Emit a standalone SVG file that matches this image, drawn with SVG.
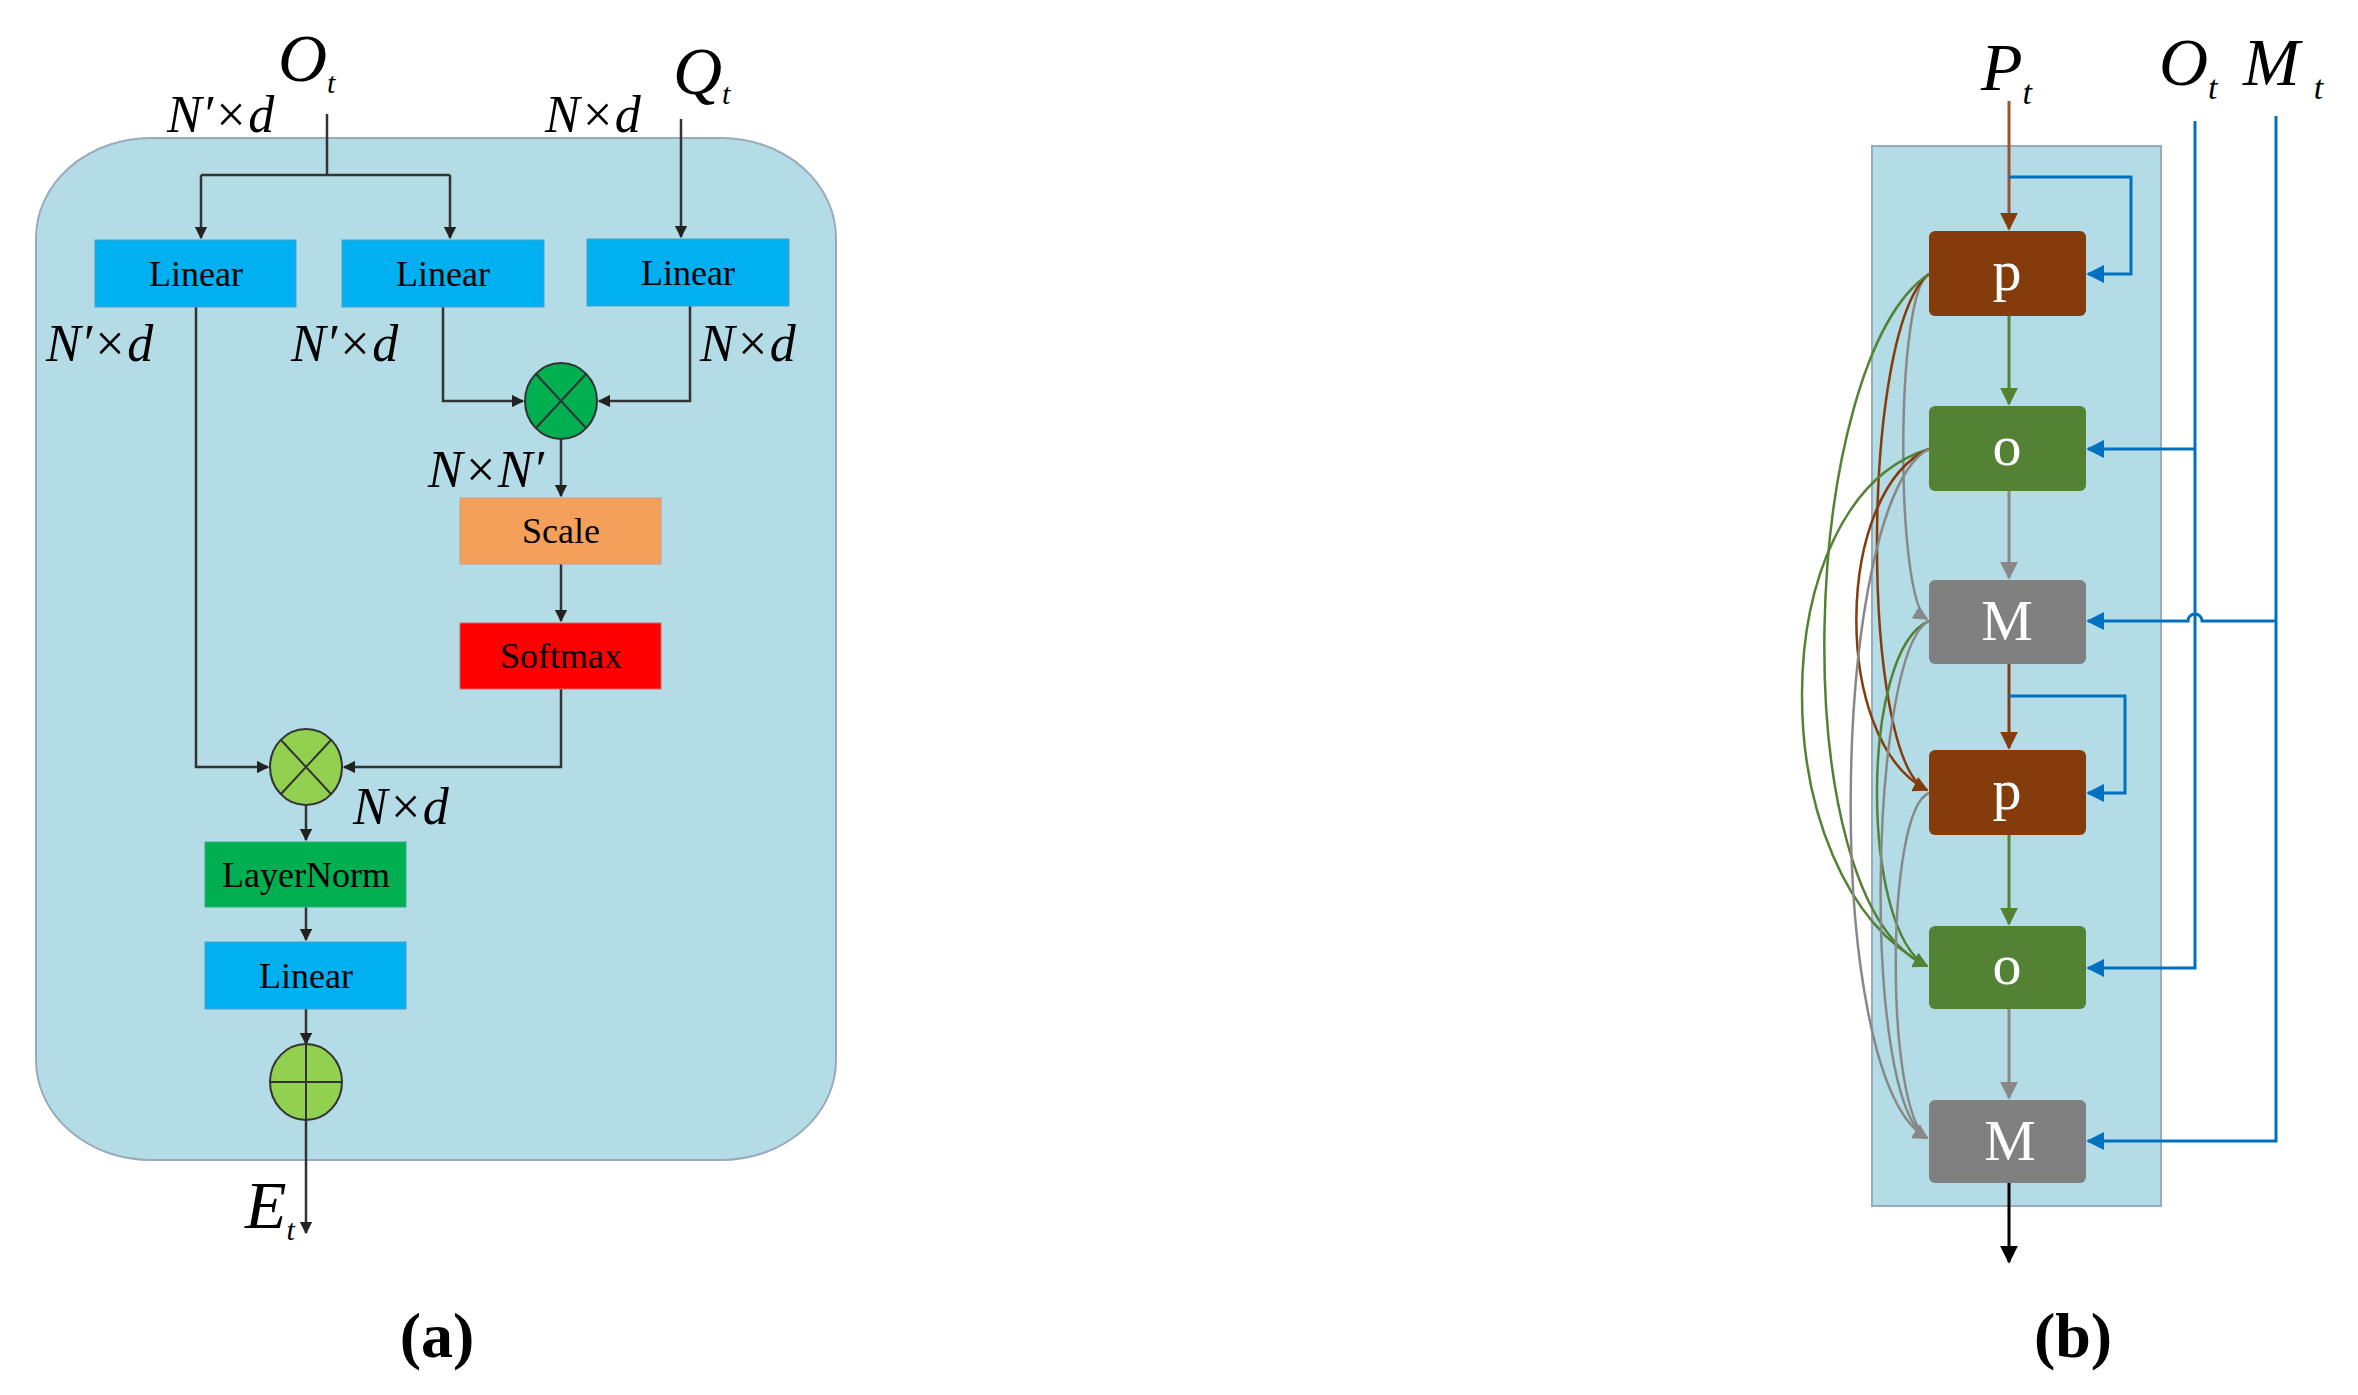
<svg xmlns="http://www.w3.org/2000/svg" width="2358" height="1395" viewBox="0 0 2358 1395">
<style>
.lbl{font-family:"Liberation Serif",serif;font-size:36px;fill:#000}
.wl{font-family:"Liberation Serif",serif;font-size:58px;fill:#fff}
.m{font-family:"Liberation Serif",serif;font-style:italic;font-size:52px;fill:#000}
.big{font-family:"Liberation Serif",serif;font-style:italic;font-size:68px;fill:#000}
.cap{font-family:"Liberation Serif",serif;font-weight:bold;font-size:64px;fill:#000}
.k{stroke:#333;stroke-width:2.5;fill:none}
</style>
<defs>
<marker id="ak" viewBox="0 0 10 10" refX="9" refY="5" markerWidth="5" markerHeight="5" orient="auto"><path d="M0 0L10 5L0 10z" fill="#222"/></marker>
<marker id="ab" viewBox="0 0 10 10" refX="9" refY="5" markerWidth="6" markerHeight="6" orient="auto"><path d="M0 0L10 5L0 10z" fill="#0070C0"/></marker>
<marker id="ar" viewBox="0 0 10 10" refX="9" refY="5" markerWidth="6" markerHeight="6" orient="auto"><path d="M0 0L10 5L0 10z" fill="#843C0C"/></marker>
<marker id="ag" viewBox="0 0 10 10" refX="9" refY="5" markerWidth="6" markerHeight="6" orient="auto"><path d="M0 0L10 5L0 10z" fill="#548235"/></marker>
<marker id="ay" viewBox="0 0 10 10" refX="9" refY="5" markerWidth="6" markerHeight="6" orient="auto"><path d="M0 0L10 5L0 10z" fill="#888"/></marker>
<marker id="ablk" viewBox="0 0 10 10" refX="9" refY="5" markerWidth="6" markerHeight="6" orient="auto"><path d="M0 0L10 5L0 10z" fill="#000"/></marker>
</defs>
<rect width="2358" height="1395" fill="#fff"/>
<!-- panel a -->
<rect id="panelA" x="36" y="138" width="800" height="1022" rx="115" ry="100" fill="#B4DCE6" stroke="#9AB" stroke-width="2"/>
<g id="connectors-a" class="k">
<path d="M327 114V175M201 175H450M201 175V238" marker-end="url(#ak)"/>
<path d="M450 175V238" marker-end="url(#ak)"/>
<path d="M681 119V237" marker-end="url(#ak)"/>
<path d="M443 307V401H523" marker-end="url(#ak)"/>
<path d="M690 306V401H599" marker-end="url(#ak)"/>
<path d="M561 439V496" marker-end="url(#ak)"/>
<path d="M561 564V621" marker-end="url(#ak)"/>
<path d="M196 307V767H268" marker-end="url(#ak)"/>
<path d="M561 689V767H344" marker-end="url(#ak)"/>
<path d="M306 805V840" marker-end="url(#ak)"/>
<path d="M306 907V940" marker-end="url(#ak)"/>
<path d="M306 1009V1044" marker-end="url(#ak)"/>
<path d="M306 1120V1233" marker-end="url(#ak)"/>
</g>
<g id="lin1"><rect x="95" y="240" width="201" height="67" fill="#00B0F0" stroke="#4a9fc8"/><text class="lbl" x="196" y="286" text-anchor="middle">Linear</text></g>
<g id="lin2"><rect x="342" y="240" width="202" height="67" fill="#00B0F0" stroke="#4a9fc8"/><text class="lbl" x="443" y="286" text-anchor="middle">Linear</text></g>
<g id="lin3"><rect x="587" y="239" width="202" height="67" fill="#00B0F0" stroke="#4a9fc8"/><text class="lbl" x="688" y="285" text-anchor="middle">Linear</text></g>
<g id="mul1"><ellipse cx="561" cy="401" rx="36" ry="38" fill="#00B050" stroke="#333" stroke-width="2"/><path d="M536 374L586 428M586 374L536 428" stroke="#333" stroke-width="2"/></g>
<g id="scale"><rect x="460" y="498" width="201" height="66" fill="#F4A05A" stroke="#c98"/><text class="lbl" x="561" y="543" text-anchor="middle">Scale</text></g>
<g id="softmax"><rect x="460" y="623" width="201" height="66" fill="#FF0000" stroke="#c66"/><text class="lbl" x="561" y="668" text-anchor="middle">Softmax</text></g>
<g id="mul2"><ellipse cx="306" cy="767" rx="36" ry="38" fill="#92D050" stroke="#333" stroke-width="2"/><path d="M281 740L331 794M331 740L281 794" stroke="#333" stroke-width="2"/></g>
<g id="layernorm"><rect x="205" y="842" width="201" height="65" fill="#00B050" stroke="#3a8"/><text class="lbl" x="306" y="887" text-anchor="middle">LayerNorm</text></g>
<g id="lin4"><rect x="205" y="942" width="201" height="67" fill="#00B0F0" stroke="#4a9fc8"/><text class="lbl" x="306" y="988" text-anchor="middle">Linear</text></g>
<g id="plus"><ellipse cx="306" cy="1082" rx="36" ry="38" fill="#92D050" stroke="#333" stroke-width="2"/><path d="M270 1082H342M306 1044V1120" stroke="#333" stroke-width="2"/></g>
<g id="labels-a">
<text class="big" x="278" y="81">O<tspan font-size="30" dy="12">t</tspan></text>
<text class="big" x="673" y="94">Q<tspan font-size="30" dy="10">t</tspan></text>
<text class="m" x="167" y="132">N′×d</text>
<text class="m" x="545" y="132">N×d</text>
<text class="m" x="46" y="361">N′×d</text>
<text class="m" x="291" y="361">N′×d</text>
<text class="m" x="700" y="361">N×d</text>
<text class="m" x="428" y="487">N×N′</text>
<text class="m" x="353" y="824">N×d</text>
<text class="big" x="245" y="1228">E<tspan font-size="30" dy="12">t</tspan></text>
<text class="cap" x="437" y="1357" text-anchor="middle">(a)</text>
</g>
<!-- panel b -->
<rect id="panelB" x="1872" y="146" width="289" height="1060" fill="#B4DCE6" stroke="#9AB" stroke-width="2"/>
<g id="connectors-b" fill="none" stroke-width="3">
<path d="M2009 101V229" stroke="#A0522D" marker-end="url(#ar)"/>
<path d="M2009 177H2131V274H2088" stroke="#0070C0" marker-end="url(#ab)"/>
<path d="M2009 316V404" stroke="#548235" marker-end="url(#ag)"/>
<path d="M2009 491V578" stroke="#888" marker-end="url(#ay)"/>
<path d="M2009 664V748" stroke="#843C0C" marker-end="url(#ar)"/>
<path d="M2009 696H2125V793H2088" stroke="#0070C0" marker-end="url(#ab)"/>
<path d="M2009 835V924" stroke="#548235" marker-end="url(#ag)"/>
<path d="M2009 1009V1098" stroke="#888" marker-end="url(#ay)"/>
<path d="M2009 1183V1262" stroke="#000" marker-end="url(#ablk)"/>
<path d="M2195 121V968H2088" stroke="#0070C0" marker-end="url(#ab)"/>
<path d="M2195 449H2088" stroke="#0070C0" marker-end="url(#ab)"/>
<path d="M2276 116V1141H2088" stroke="#0070C0" marker-end="url(#ab)"/>
<path d="M2276 621H2202A7 7 0 0 0 2188 621H2088" stroke="#0070C0" marker-end="url(#ab)"/>
</g>
<g id="curves" fill="none" stroke-width="2.5">
<path d="M1929 274C1895 290 1895 600 1927 619" stroke="#888" marker-end="url(#ay)"/>
<path d="M1929 274C1860 330 1860 760 1927 790" stroke="#843C0C" marker-end="url(#ar)"/>
<path d="M1929 274C1800 360 1780 900 1927 966" stroke="#548235" marker-end="url(#ag)"/>
<path d="M1929 449C1760 500 1760 880 1927 966" stroke="#548235" marker-end="url(#ag)"/>
<path d="M1929 449C1835 490 1830 740 1927 790" stroke="#843C0C" marker-end="url(#ar)"/>
<path d="M1929 449C1830 500 1820 1080 1927 1138" stroke="#888" marker-end="url(#ay)"/>
<path d="M1929 621C1860 650 1860 930 1927 966" stroke="#548235" marker-end="url(#ag)"/>
<path d="M1929 621C1870 650 1860 1100 1927 1138" stroke="#888" marker-end="url(#ay)"/>
<path d="M1929 793C1885 810 1885 1110 1927 1138" stroke="#888" marker-end="url(#ay)"/>
</g>
<g id="p1"><rect x="1929" y="231" width="157" height="85" rx="6" fill="#843C0C"/><text class="wl" x="2007" y="290" text-anchor="middle">p</text></g>
<g id="o1"><rect x="1929" y="406" width="157" height="85" rx="6" fill="#548235"/><text class="wl" x="2007" y="465" text-anchor="middle">o</text></g>
<g id="M1"><rect x="1929" y="580" width="157" height="84" rx="6" fill="#808080"/><text class="wl" x="2007" y="640" text-anchor="middle">M</text></g>
<g id="p2"><rect x="1929" y="750" width="157" height="85" rx="6" fill="#843C0C"/><text class="wl" x="2007" y="809" text-anchor="middle">p</text></g>
<g id="o2"><rect x="1929" y="926" width="157" height="83" rx="6" fill="#548235"/><text class="wl" x="2007" y="984" text-anchor="middle">o</text></g>
<g id="M2"><rect x="1929" y="1100" width="157" height="83" rx="6" fill="#808080"/><text class="wl" x="2010" y="1160" text-anchor="middle">M</text></g>
<g id="labels-b">
<text class="big" x="1981" y="90">P<tspan font-size="34" dy="14">t</tspan></text>
<text class="big" x="2159" y="85">O<tspan font-size="34" dy="14">t</tspan></text>
<text class="big" x="2243" y="85">M<tspan font-size="34" dy="14" dx="14">t</tspan></text>
<text class="cap" x="2073" y="1357" text-anchor="middle">(b)</text>
</g>
</svg>
